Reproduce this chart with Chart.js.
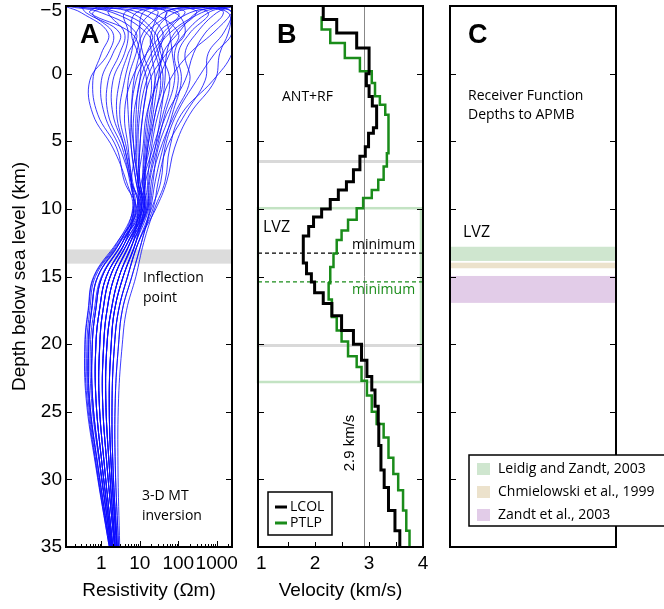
<!DOCTYPE html>
<html>
<head>
<meta charset="utf-8">
<script src="https://cdn.jsdelivr.net/npm/chart.js@4.4.1/dist/chart.umd.min.js"></script>
<style>
  body { margin: 0; background: #fff; }
  .wrap { position: relative; width: 664px; height: 609px; overflow: hidden; }
  canvas { position: absolute; top: 0; }
</style>
</head>
<body>
<div class="wrap">
  <canvas id="panelA" width="240" height="609" style="left:0px"></canvas>
  <canvas id="panelB" width="200" height="609" style="left:240px"></canvas>
  <canvas id="panelC" width="224" height="609" style="left:440px"></canvas>
</div>
<script>
// shared depth axis (km below sea level)
const depthTicks = [-5, 0, 5, 10, 15, 20, 25, 30, 35];

// ===== panel A : 3-D MT resistivity models (ohm m) =====
const depthsA = [-4.95, -4.5, -3, -1.5, 0.5, 3, 5.5, 8, 10, 12.5, 15, 17.5, 20, 24, 29, 35];
const rhoModels = [
  [0.2, 3, 20, 15, 8, 6, 7, 9, 12, 4.8, 1.7, 1.1, 0.91, 0.87, 1.2, 2.0],
  [1500, 400, 60, 25, 12, 9, 8, 6, 7, 3.5, 1.05, 0.71, 0.58, 0.59, 0.93, 1.8],
  [5, 0.6, 2, 1.5, 0.5, 0.6, 2, 4.5, 6.5, 3.0, 0.81, 0.56, 0.47, 0.49, 0.81, 1.7],
  [2500, 2500, 800, 200, 60, 30, 20, 16, 16, 6.6, 2.9, 1.8, 1.4, 1.3, 1.6, 2.3],
  [40, 150, 30, 40, 25, 20, 15, 13, 14, 7.8, 3.7, 2.2, 1.8, 1.6, 1.8, 2.5],
  [0.15, 1, 8, 5, 3, 2.5, 4, 6, 9, 2.5, 0.63, 0.45, 0.37, 0.40, 0.71, 1.6],
  [300, 2000, 2500, 900, 300, 90, 45, 35, 20, 9.1, 4.8, 2.8, 2.2, 1.9, 2.0, 2.6],
  [10, 50, 15, 10, 7, 6, 6, 8, 11, 5.6, 2.2, 1.4, 1.15, 1.07, 1.4, 2.2],
  [700, 80, 25, 30, 40, 25, 18, 11, 8, 4.1, 1.35, 0.89, 0.72, 0.72, 1.05, 1.9],
  [0.3, 0.4, 3, 2, 1, 1.2, 3, 6, 10, 3.5, 1.0, 0.65, 0.52, 0.55, 0.9, 1.8],
  [2000, 600, 150, 80, 100, 60, 30, 22, 18, 11, 6.2, 3.5, 2.8, 2.3, 2.3, 2.8],
  [60, 8, 6, 9, 15, 12, 10, 10, 13, 4.8, 1.7, 1.1, 0.9, 0.87, 1.2, 2.0],
  [3, 20, 100, 60, 30, 15, 12, 9, 9, 6.6, 2.9, 1.8, 1.4, 1.3, 1.6, 2.3],
  [1200, 2500, 2500, 2500, 800, 120, 60, 45, 24, 12.6, 7.9, 4.5, 3.5, 2.8, 2.7, 3.0],
  [20, 4, 5, 4, 2, 2, 4, 6, 7.5, 3.0, 0.81, 0.56, 0.47, 0.49, 0.81, 1.7],
  [150, 300, 80, 50, 45, 35, 25, 17, 15, 5.6, 2.2, 1.4, 1.15, 1.07, 1.4, 2.2],
  [0.5, 10, 40, 20, 10, 8, 8, 9, 12, 4.1, 1.35, 0.89, 0.72, 0.72, 1.05, 1.9],
  [2500, 1000, 300, 150, 200, 80, 35, 20, 17, 7.8, 3.7, 2.2, 1.8, 1.6, 1.8, 2.5],
  [8, 100, 40, 15, 6, 4, 5, 6, 6.8, 2.6, 0.65, 0.46, 0.38, 0.42, 0.73, 1.6],
  [400, 40, 20, 20, 25, 18, 14, 12, 13, 6.6, 2.9, 1.8, 1.4, 1.3, 1.6, 2.3],
  [0.12, 0.3, 1.5, 1, 0.6, 0.8, 2.5, 4, 8, 3.5, 1.05, 0.71, 0.58, 0.59, 0.93, 1.8],
  [900, 2500, 1500, 600, 500, 150, 50, 30, 22, 9.1, 4.8, 2.8, 2.2, 1.9, 2.0, 2.6],
  [30, 12, 10, 12, 20, 16, 13, 12, 14, 4.8, 1.7, 1.1, 0.91, 0.87, 1.2, 2.0],
  [1, 6, 25, 35, 60, 40, 22, 12, 10, 5.6, 2.2, 1.4, 1.15, 1.07, 1.4, 2.2],
  [2500, 200, 50, 30, 15, 10, 9, 10, 12, 3.0, 0.8, 0.55, 0.45, 0.47, 0.8, 1.7],
  [80, 600, 200, 100, 120, 70, 40, 25, 19, 11, 6.2, 3.5, 2.8, 2.3, 2.3, 2.8],
  [2, 1.5, 4, 3, 1.5, 1.5, 3.5, 5.5, 7, 4.1, 1.35, 0.89, 0.72, 0.72, 1.05, 1.9],
  [600, 1500, 500, 250, 150, 50, 25, 14, 11, 7.8, 3.7, 2.2, 1.8, 1.6, 1.8, 2.5],
  [15, 30, 12, 8, 5, 5, 6, 8, 9.5, 3.5, 1.05, 0.71, 0.58, 0.59, 0.93, 1.8],
  [0.25, 2, 15, 25, 35, 25, 16, 14, 15, 6.6, 2.9, 1.8, 1.4, 1.3, 1.6, 2.3],
  [2500, 2500, 2000, 1200, 900, 200, 80, 50, 26, 9.1, 4.8, 2.8, 2.2, 1.9, 2.0, 2.6],
  [50, 20, 8, 6, 4, 3, 4.5, 6.5, 8.5, 2.8, 0.7, 0.5, 0.42, 0.45, 0.75, 1.65],
  [200, 50, 60, 70, 80, 45, 28, 18, 16, 5.6, 2.2, 1.4, 1.15, 1.07, 1.4, 2.2],
  [4, 80, 150, 50, 18, 12, 10, 9, 10.5, 4.8, 1.7, 1.1, 0.91, 0.87, 1.2, 2.0],
  [1000, 300, 100, 40, 30, 22, 16, 13, 13, 7.8, 3.7, 2.2, 1.8, 1.6, 1.8, 2.5],
  [0.8, 0.5, 6, 10, 10, 7, 7, 9, 11, 4.1, 1.35, 0.89, 0.72, 0.72, 1.05, 1.9]
];
const rhoTicks = [1, 10, 100, 1000];
const rhoMinorTicks = [0.2, 0.3, 0.4, 0.5, 0.6, 0.7, 0.8, 0.9, 2, 3, 4, 5, 6, 7, 8, 9,
  20, 30, 40, 50, 60, 70, 80, 90, 200, 300, 400, 500, 600, 700, 800, 900, 2000];
const inflection = [13.0, 14.05];

// ===== panel B : ANT+RF velocity profiles (km/s), layer tops in km =====
const lcolTops = [-5, -4.0, -3.0, -1.9, 0.0, 0.9, 1.7, 2.4, 4.0, 4.4, 5.4, 6.1, 7.1, 8.0, 8.6, 9.3,
  10.0, 10.6, 11.3, 12.0, 14.0, 14.8, 15.4, 16.2, 17.0, 17.9, 19.0, 20.0, 21.2, 22.4, 23.4, 24.6,
  25.9, 27.5, 29.3, 30.6, 32.3, 33.8];
const lcolVel = [2.15, 2.40, 2.77, 3.00, 2.95, 3.00, 3.06, 3.14, 3.08, 2.99, 2.93, 2.83, 2.71, 2.58, 2.43, 2.28,
  2.12, 1.97, 1.88, 1.78, 1.84, 1.93, 1.99, 2.15, 2.31, 2.49, 2.71, 2.86, 2.96, 3.05, 3.11, 3.17,
  3.18, 3.22, 3.28, 3.36, 3.48, 3.57];
const ptlpTops = [-4.25, -3.26, -2.27, -1.16, -0.17, 0.69, 1.68, 2.3, 3.04, 5.88, 6.86, 7.85, 8.6, 9.2,
  9.95, 10.8, 11.6, 12.3, 13.3, 14.3, 15.5, 16.7, 18.0, 19.0, 19.8, 20.9, 21.7, 22.7, 23.8, 25.0,
  25.9, 26.9, 28.4, 29.6, 30.8, 32.3, 33.8];
const ptlpVel = [2.12, 2.28, 2.55, 2.83, 3.05, 3.11, 3.20, 3.30, 3.36, 3.33, 3.27, 3.17, 3.05, 2.89,
  2.77, 2.61, 2.49, 2.40, 2.34, 2.28, 2.25, 2.31, 2.40, 2.49, 2.61, 2.77, 2.86, 2.96, 3.05, 3.14,
  3.27, 3.36, 3.45, 3.54, 3.63, 3.69, 3.75];
const velTicks = [1, 2, 3, 4];
const velMinorTicks = [1.5, 2, 2.5, 3, 3.5];
const refVel = 2.9;
const grayDepths = [6.5, 20.1];
const greenZone = [9.95, 22.8];
const lcolMinDepth = 13.27;
const ptlpMinDepth = 15.4;

// ===== panel C : receiver function depths to APMB =====
const rfLabels = ["Leidig and Zandt, 2003", "Chmielowski et al., 1999", "Zandt et al., 2003"];
const rfTop = [12.8, 13.98, 14.96];
const rfBottom = [13.85, 14.39, 16.95];
const rfColors = ["#cfe6cf", "#ece2cc", "#e2cce8"];

//==========================================================================
const axisFont = { family: "'Liberation Sans', Arial, sans-serif", size: 19 };
const noteFont = "14px 'Open Sans', sans-serif";
const letterFont = "bold 27px 'Liberation Sans', Arial, sans-serif";
const green = "#1a8c1a";

function txt(ctx, s, x, y, font, color) {
  ctx.save();
  ctx.font = font;
  ctx.fillStyle = color || "#000";
  ctx.textBaseline = "middle";
  ctx.fillText(s, x, y);
  ctx.restore();
}

function frame(chart) {
  const { ctx, chartArea: a } = chart;
  ctx.save();
  ctx.strokeStyle = "#000";
  ctx.lineWidth = 2;
  ctx.strokeRect(a.left, a.top, a.right - a.left, a.bottom - a.top);
  ctx.restore();
}

function depthMarks(chart) {
  const { ctx, chartArea: a } = chart;
  const y = chart.scales.y;
  ctx.save();
  ctx.strokeStyle = "#000";
  ctx.lineWidth = 1;
  ctx.beginPath();
  depthTicks.forEach((d) => {
    if (d <= -5 || d >= 35) return;
    const py = Math.round(y.getPixelForValue(d)) + 0.5;
    ctx.moveTo(a.left, py);
    ctx.lineTo(a.left + 6, py);
    ctx.moveTo(a.right, py);
    ctx.lineTo(a.right - 6, py);
  });
  ctx.stroke();
  ctx.restore();
}

function bottomMarks(chart, values, len) {
  const { ctx, chartArea: a } = chart;
  const x = chart.scales.x;
  ctx.save();
  ctx.strokeStyle = "#000";
  ctx.lineWidth = 1;
  ctx.beginPath();
  values.forEach((v) => {
    const px = Math.round(x.getPixelForValue(v)) + 0.5;
    ctx.moveTo(px, a.bottom);
    ctx.lineTo(px, a.bottom - len);
  });
  ctx.stroke();
  ctx.restore();
}

function hline(chart, depth, color, width, dash) {
  const { ctx, chartArea: a } = chart;
  const py = chart.scales.y.getPixelForValue(depth);
  ctx.save();
  ctx.strokeStyle = color;
  ctx.lineWidth = width;
  ctx.setLineDash(dash || []);
  ctx.beginPath();
  ctx.moveTo(a.left, py);
  ctx.lineTo(a.right, py);
  ctx.stroke();
  ctx.restore();
}

function depthAxis(show) {
  return {
    type: "linear",
    reverse: true,
    min: -5,
    max: 35,
    display: show,
    afterBuildTicks: (s) => { s.ticks = depthTicks.map((v) => ({ value: v })); },
    ticks: {
      padding: 4,
      color: "#000",
      font: Object.assign({ lineHeight: 0.55 }, axisFont),
      callback: (v) => (v < 0 ? ["", "\u2212" + Math.abs(v)] : String(v)),
    },
    grid: { display: false, drawTicks: false },
    border: { display: false },
    title: {
      display: true,
      text: "Depth below sea level (km)",
      color: "#000",
      font: axisFont,
      padding: { top: 8, bottom: 0 },
    },
    afterFit: (s) => { s.width = show ? 66 : 0; s.paddingTop = 0; s.paddingBottom = 0; },
  };
}

function bottomAxis(opts) {
  return Object.assign({
    afterBuildTicks: (s) => { s.ticks = opts.tickVals.map((v) => ({ value: v })); },
    ticks: { autoSkip: false, maxRotation: 0, padding: 5, color: "#000", font: axisFont, callback: (v) => String(v) },
    grid: { display: false, drawTicks: false },
    border: { display: false },
    title: { display: true, text: opts.title, color: "#000", font: axisFont, padding: { top: 0, bottom: 7 } },
    afterFit: (s) => { s.height = 62; s.paddingLeft = 0; s.paddingRight = 0; },
  }, opts.extra);
}

//==========================================================================
// panel A
const chartA = new Chart(document.getElementById("panelA"), {
  type: "scatter",
  data: {
    datasets: rhoModels.map((m) => ({
      data: depthsA.map((d, i) => ({ x: m[i], y: d })),
      showLine: true,
      borderColor: "rgba(10,10,255,0.8)",
      borderWidth: 1,
      pointRadius: 0,
      tension: 0.4,
    })),
  },
  options: {
    responsive: false,
    animation: false,
    layout: { padding: { top: 6, right: 8, left: 0, bottom: 0 } },
    plugins: { legend: { display: false }, tooltip: { enabled: false } },
    scales: {
      x: bottomAxis({ tickVals: rhoTicks, title: "Resistivity (\u03A9m)", extra: { type: "logarithmic", min: 0.12, max: 2500 } }),
      y: depthAxis(true),
    },
  },
  plugins: [{
    id: "panelA",
    beforeDatasetsDraw(chart) {
      const { ctx, chartArea: a } = chart;
      const y = chart.scales.y;
      const t = y.getPixelForValue(inflection[0]);
      const b = y.getPixelForValue(inflection[1]);
      ctx.save();
      ctx.fillStyle = "#dcdcdc";
      ctx.fillRect(a.left, t, a.right - a.left, b - t);
      ctx.restore();
    },
    afterDraw(chart) {
      const { ctx, chartArea: a } = chart;
      frame(chart);
      depthMarks(chart);
      bottomMarks(chart, rhoTicks, 6);
      bottomMarks(chart, rhoMinorTicks, 3);
      ctx.save();
      ctx.font = letterFont;
      ctx.fillStyle = "#000";
      ctx.fillText("A", a.left + 14, a.top + 37);
      ctx.restore();
      txt(ctx, "Inflection", a.left + 77, 278, noteFont);
      txt(ctx, "point", a.left + 77, 298, noteFont);
      txt(ctx, "3-D MT", a.left + 76, 496, noteFont);
      txt(ctx, "inversion", a.left + 76, 516, noteFont);
    },
  }],
});

//==========================================================================
// panel B
function steps(tops, vel) {
  const pts = tops.map((d, i) => ({ x: vel[i], y: d }));
  pts.push({ x: vel[vel.length - 1], y: 35 });
  return pts;
}

const chartB = new Chart(document.getElementById("panelB"), {
  type: "scatter",
  data: {
    datasets: [
      { label: "LCOL", data: steps(lcolTops, lcolVel), showLine: true, stepped: "after", borderColor: "#000", borderWidth: 3, pointRadius: 0 },
      { label: "PTLP", data: steps(ptlpTops, ptlpVel), showLine: true, stepped: "after", borderColor: green, borderWidth: 2.5, pointRadius: 0 },
    ],
  },
  options: {
    responsive: false,
    animation: false,
    layout: { padding: { top: 6, right: 17, left: 18, bottom: 0 } },
    plugins: { legend: { display: false }, tooltip: { enabled: false } },
    scales: {
      x: bottomAxis({ tickVals: velTicks, title: "Velocity (km/s)", extra: { type: "linear", min: 0.94, max: 4 } }),
      y: depthAxis(false),
    },
  },
  plugins: [{
    id: "panelB",
    beforeDatasetsDraw(chart) {
      const { ctx, chartArea: a } = chart;
      const y = chart.scales.y;
      // green zone outline
      const gt = y.getPixelForValue(greenZone[0]);
      const gb = y.getPixelForValue(greenZone[1]);
      ctx.save();
      ctx.strokeStyle = "#c3e3c3";
      ctx.lineWidth = 2.5;
      ctx.strokeRect(a.left, gt, a.right - a.left - 2, gb - gt);
      ctx.restore();
      grayDepths.forEach((d) => hline(chart, d, "#d9d9d9", 3));
      // reference velocity
      const px = Math.round(chart.scales.x.getPixelForValue(refVel)) + 0.5;
      ctx.save();
      ctx.strokeStyle = "#888";
      ctx.lineWidth = 1;
      ctx.beginPath();
      ctx.moveTo(px, a.top);
      ctx.lineTo(px, a.bottom);
      ctx.stroke();
      ctx.restore();
      hline(chart, lcolMinDepth, "#000", 1.2, [4, 3]);
      hline(chart, ptlpMinDepth, green, 1.2, [4, 3]);
    },
    afterDraw(chart) {
      const { ctx, chartArea: a } = chart;
      frame(chart);
      depthMarks(chart);
      bottomMarks(chart, velMinorTicks, 5);
      ctx.save();
      ctx.font = letterFont;
      ctx.fillStyle = "#000";
      ctx.fillText("B", a.left + 19, a.top + 37);
      ctx.restore();
      txt(ctx, "ANT+RF", a.left + 24, 97, noteFont);
      txt(ctx, "LVZ", a.left + 5, 227, "16px 'Open Sans', sans-serif");
      txt(ctx, "minimum", a.left + 94, 245, noteFont);
      txt(ctx, "minimum", a.left + 94, 290, noteFont, green);
      // rotated velocity note
      ctx.save();
      ctx.translate(a.left + 92, 443);
      ctx.rotate(-Math.PI / 2);
      ctx.font = "15px 'Liberation Sans', Arial, sans-serif";
      ctx.fillStyle = "#000";
      ctx.textAlign = "center";
      ctx.textBaseline = "middle";
      ctx.fillText(refVel + " km/s", 0, 0);
      ctx.restore();
      // legend
      ctx.save();
      ctx.fillStyle = "#fff";
      ctx.fillRect(28, 492, 64, 43);
      ctx.strokeStyle = "#000";
      ctx.lineWidth = 1.5;
      ctx.strokeRect(28, 492, 64, 43);
      ctx.restore();
      chart.data.datasets.forEach((ds, i) => {
        const ly = 507 + i * 16;
        ctx.save();
        ctx.strokeStyle = ds.borderColor;
        ctx.lineWidth = 3;
        ctx.beginPath();
        ctx.moveTo(35, ly);
        ctx.lineTo(47, ly);
        ctx.stroke();
        ctx.restore();
        txt(ctx, ds.label, 50, ly, noteFont);
      });
    },
  }],
});

//==========================================================================
// panel C
const chartC = new Chart(document.getElementById("panelC"), {
  type: "scatter",
  data: { datasets: [] },
  options: {
    responsive: false,
    animation: false,
    layout: { padding: { top: 6, right: 48, left: 10, bottom: 62 } },
    plugins: { legend: { display: false }, tooltip: { enabled: false } },
    scales: {
      x: { type: "linear", min: 0, max: 1, display: false },
      y: depthAxis(false),
    },
  },
  plugins: [{
    id: "panelC",
    beforeDatasetsDraw(chart) {
      const { ctx, chartArea: a } = chart;
      const y = chart.scales.y;
      rfLabels.forEach((l, i) => {
        const t = y.getPixelForValue(rfTop[i]);
        const b = y.getPixelForValue(rfBottom[i]);
        ctx.fillStyle = rfColors[i];
        ctx.fillRect(a.left, t, a.right - a.left, b - t);
      });
    },
    afterDraw(chart) {
      const { ctx, chartArea: a } = chart;
      frame(chart);
      depthMarks(chart);
      ctx.save();
      ctx.font = letterFont;
      ctx.fillStyle = "#000";
      ctx.fillText("C", a.left + 18, a.top + 37);
      ctx.restore();
      txt(ctx, "Receiver Function", a.left + 18, 96, noteFont);
      txt(ctx, "Depths to APMB", a.left + 18, 115, noteFont);
      txt(ctx, "LVZ", a.left + 13, 232, "16px 'Open Sans', sans-serif");
      // legend
      ctx.save();
      ctx.fillStyle = "#fff";
      ctx.fillRect(29, 455, 220, 71);
      ctx.strokeStyle = "#000";
      ctx.lineWidth = 1.5;
      ctx.strokeRect(29, 455, 220, 71);
      ctx.restore();
      rfLabels.forEach((l, i) => {
        const ly = 469 + i * 23;
        ctx.fillStyle = rfColors[i];
        ctx.fillRect(37, ly - 6, 13, 12);
        txt(ctx, l, 58, ly, noteFont);
      });
    },
  }],
});
</script>
</body>
</html>
